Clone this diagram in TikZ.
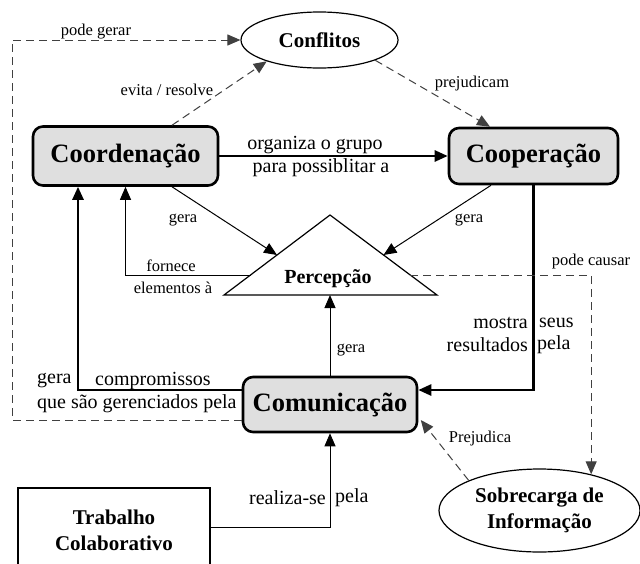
\documentclass[tikz,border=0pt]{standalone}
\usepackage{fontspec}
\setmainfont{LiberationSerif}[Extension=.ttf, UprightFont=*-Regular, BoldFont=*-Bold, ItalicFont=*-Italic, BoldItalicFont=*-BoldItalic]
\usetikzlibrary{arrows.meta,shapes.geometric,calc}
\newcommand\bigbf{\fontsize{26.5}{30}\selectfont\bfseries}
\newcommand\midbf{\fontsize{21}{26}\selectfont\bfseries}
\newcommand\lab{\fontsize{20}{23}\selectfont}
\newcommand\sml{\fontsize{16.5}{19}\selectfont}
\tikzset{
  mainbox/.style={draw, line width=2.6pt, rounded corners=10pt, fill=gray!25, inner sep=0pt, font=\bigbf},
  ell/.style={draw, ellipse, line width=1.2pt, inner sep=0pt, align=center, font=\midbf},
  thin/.style={line width=1pt},
  thick2/.style={line width=2.6pt},
  dsh/.style={line width=1pt, dash pattern=on 8pt off 5pt, draw=black!75},
  arr/.style={-{Triangle[length=13pt,width=11pt]}},
  smlab/.style={font=\sml, inner sep=0pt},
  lglab/.style={font=\lab, inner sep=0pt},
}
\begin{document}
\begin{tikzpicture}[x=1pt,y=-1pt]
\clip (0,0) rectangle (640,563);
\fill[white] (0,0) rectangle (640,563);
% nodes
\node[ell, minimum width=157pt, minimum height=56pt] (conf) at (319.5,40) {Conflitos};
\node[mainbox, minimum width=185pt, minimum height=59pt] (coord) at (125.5,156) {Coordenação};
\node[mainbox, minimum width=169pt, minimum height=56pt] (coop) at (533.5,156) {Cooperação};
\node[mainbox, minimum width=174pt, minimum height=55pt] (comm) at (330,404.5) {Comunicação};
\node[draw, line width=1.2pt, minimum width=192pt, minimum height=84pt, inner sep=0pt, align=center, font=\midbf] (trab) at (114,530) {Trabalho\\Colaborativo};
\node[ell, minimum width=201pt, minimum height=83pt] (sob) at (539.5,510.5) {Sobrecarga de\\Informação};
% triangle
\coordinate (tA) at (330,215);
\coordinate (tL) at (224,295);
\coordinate (tR) at (437,295);
\draw[line width=1.2pt, fill=white] (tL) -- (tA) -- (tR) -- cycle;
\node[font=\fontsize{20}{22}\selectfont\bfseries, inner sep=0pt] (perc) at (328,279) {Percepção};
\coordinate (pl) at ($(tL)!0.5!(tA)$);
\coordinate (pr) at ($(tR)!0.5!(tA)$);
\coordinate (pf) at ($(tL)!0.25!(tA)$);
\coordinate (pc) at ($(tR)!0.25!(tA)$);
\coordinate (pb) at ($(tL)!0.5!(tR)$);
\coordinate (pgcorner) at (12,420);
% connectors
\draw[dsh, arr] ([yshift=-15.5pt]comm.west) -- (pgcorner) |- (conf.west);
\node[smlab] (l1) at (96,32) {pode gerar};
\draw[dsh, arr] ([xshift=46.5pt]coord.north) -- (conf.202);
\node[smlab] (l2) at (167,90) {evita / resolve};
\draw[dsh, arr] (conf.340.7) -- ([xshift=-43.5pt]coop.north);
\node[smlab] (l3) at (472,84) {prejudicam};
\draw[thick2, arr] (coord.east) -- (coop.east -| coop.west);
\node[lglab] (l4a) at (315,145) {organiza o grupo};
\node[lglab] (l4b) at (321,168) {para possiblitar a};
\draw[thin, arr] ([xshift=46.5pt]coord.south) -- (pl);
\node[smlab] (l5) at (183,220) {gera};
\draw[thin, arr] ([xshift=-42.5pt]coop.south) -- (pr);
\node[smlab] (l6) at (469,220) {gera};
\draw[thin, arr] (pf) -| (coord.south);
\node[smlab] (l7a) at (171,266) {fornece};
\node[smlab] (l7b) at (173,288) {elementos à};
\draw[thin, arr] (comm.north) -- (comm.north |- pb);
\node[smlab] (l8) at (351,350) {gera};
\draw[thick2, arr] (coop.south) |- ([yshift=14.5pt]comm.east);
\node[lglab, anchor=east] (l9a) at (528,323) {mostra};
\node[lglab, anchor=west] (l9b) at (539,323) {seus};
\node[lglab, anchor=east] (l9c) at (528,345) {resultados};
\node[lglab, anchor=west] (l9d) at (537,345) {pela};
\draw[thick2, arr] ([yshift=14.5pt]comm.west) -| ([xshift=-47.5pt]coord.south);
\node[lglab, anchor=west] (l10a) at (37,381) {gera};
\node[lglab, anchor=west] (l10b) at (95,381) {compromissos};
\node[lglab, anchor=west] (l10c) at (37,404) {que são gerenciados pela};
\draw[dsh, arr] (pc) -| (sob.35.5);
\node[smlab] (l11) at (591,262) {pode causar};
\draw[dsh, arr] (sob.157.2) -- ([xshift=2.5pt,yshift=-15.5pt]comm.east);
\node[smlab] (l12) at (480,439) {Prejudica};
\draw[thin, arr] ([yshift=3pt]trab.east) -| (comm.south);
\node[lglab, anchor=east] (l13a) at (326,498) {realiza-se};
\node[lglab, anchor=west] (l13b) at (335,498) {pela};
\end{tikzpicture}
\end{document}
